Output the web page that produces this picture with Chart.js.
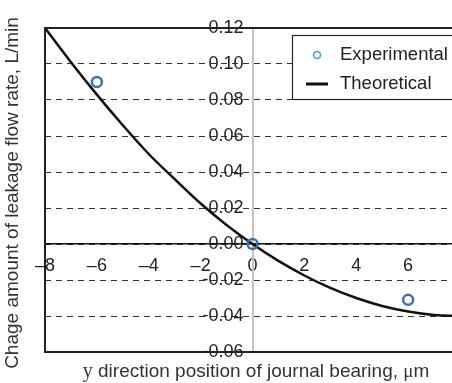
<!DOCTYPE html>
<html>
<head>
<meta charset="utf-8">
<script src="https://cdn.jsdelivr.net/npm/chart.js@4.4.1/dist/chart.umd.min.js"></script>
<style>
  html, body { margin: 0; padding: 0; background: #fff; overflow: hidden; }
  #wrap { width: 470px; height: 383px; }
</style>
</head>
<body>
<div id="wrap"><canvas id="flow-chart" width="470" height="383"></canvas></div>
<script>
// -------- DATA -------- //
const xTicks = [-8, -6, -4, -2, 0, 2, 4, 6];
const yTicks = [-0.06, -0.04, -0.02, 0, 0.02, 0.04, 0.06, 0.08, 0.10, 0.12];

const expX = [-6, 0, 6];
const expY = [0.090, 0.000, -0.031];

const theoryX = [-8, -7, -6, -5, -4, -3, -2, -1, 0, 1, 2, 3, 4, 5, 6, 7, 8];
const theoryY = [0.120, 0.101, 0.083, 0.066, 0.050, 0.036, 0.0225, 0.0106, 0.000,
  -0.0094, -0.0175, -0.0244, -0.030, -0.0344, -0.0375, -0.0394, -0.040];

const seriesNames = ['Experimental', 'Theoretical'];
const xTitle = 'y direction position of journal bearing, \u03bcm';
const yTitle = 'Chage amount of leakage flow rate, L/min';

const toPoints = (xs, ys) => xs.map((x, i) => ({ x: x, y: ys[i] }));

Chart.defaults.font.family = "'Liberation Sans', Arial, sans-serif";
Chart.defaults.color = '#222';

// -------- FRAME, TITLES, LEGEND -------- //
const decorations = {
  id: 'decorations',
  afterDraw(chart) {
    const ctx = chart.ctx;
    const a = chart.chartArea;
    ctx.save();

    // frame (left, top, bottom)
    ctx.strokeStyle = '#222';
    ctx.lineWidth = 2;
    ctx.beginPath();
    ctx.moveTo(a.right, a.top);
    ctx.lineTo(a.left, a.top);
    ctx.lineTo(a.left, a.bottom);
    ctx.lineTo(a.right, a.bottom);
    ctx.stroke();

    // y title
    ctx.fillStyle = '#333';
    ctx.font = "19px 'Liberation Sans'";
    ctx.textAlign = 'center';
    ctx.textBaseline = 'middle';
    ctx.save();
    ctx.translate(13, 193);
    ctx.rotate(-Math.PI / 2);
    ctx.fillText(yTitle, 0, 0);
    ctx.restore();

    // x title, 'y' and 'μ' in a serif face
    const parts = [
      ['y', "20px 'Liberation Serif'"],
      [xTitle.slice(1, -2), "19px 'Liberation Sans'"],
      ['\u03bc', "19px 'Liberation Serif'"],
      ['m', "19px 'Liberation Sans'"]
    ];
    let total = 0;
    parts.forEach(p => { ctx.font = p[1]; total += ctx.measureText(p[0]).width; });
    let x = 256 - total / 2;
    ctx.textAlign = 'left';
    parts.forEach(p => {
      ctx.font = p[1];
      ctx.fillText(p[0], x, 372);
      x += ctx.measureText(p[0]).width;
    });

    // legend
    ctx.fillStyle = '#fff';
    ctx.fillRect(292, 35, 200, 64);
    ctx.strokeStyle = '#222';
    ctx.lineWidth = 1.2;
    ctx.strokeRect(292.5, 35.5, 200, 64);

    ctx.strokeStyle = '#4a9ad8';
    ctx.lineWidth = 1.5;
    ctx.beginPath();
    ctx.arc(317, 55, 3.5, 0, Math.PI * 2);
    ctx.stroke();

    ctx.strokeStyle = '#111';
    ctx.lineWidth = 3;
    ctx.beginPath();
    ctx.moveTo(306, 84);
    ctx.lineTo(328, 84);
    ctx.stroke();

    ctx.fillStyle = '#222';
    ctx.font = "18.5px 'Liberation Sans'";
    ctx.textBaseline = 'middle';
    ctx.fillText(seriesNames[0], 340, 55);
    ctx.fillText(seriesNames[1], 340, 84);

    ctx.restore();
  }
};

// -------- CHART -------- //
const flowCtx = document.getElementById('flow-chart');

const flowChart = new Chart(flowCtx, {
  type: 'scatter',
  data: {
    datasets: [
      {
        label: seriesNames[0],
        data: toPoints(expX, expY),
        pointStyle: 'circle',
        pointRadius: 5,
        pointBorderWidth: 2.5,
        pointBorderColor: '#3f72ad',
        pointBackgroundColor: 'rgba(255,255,255,0)',
        showLine: false
      },
      {
        label: seriesNames[1],
        data: toPoints(theoryX, theoryY),
        showLine: true,
        borderColor: '#111',
        borderWidth: 2.5,
        pointRadius: 0,
        tension: 0.4,
        fill: false
      }
    ]
  },
  plugins: [decorations],
  options: {
    responsive: false,
    animation: false,
    layout: {
      padding: { left: 45, right: 10, top: 28, bottom: 31 }
    },
    plugins: {
      legend: { display: false },
      tooltip: { enabled: false }
    },
    scales: {
      x: {
        type: 'linear',
        position: { y: 0 },
        min: -8,
        max: 8,
        afterBuildTicks: axis => { axis.ticks = xTicks.map(v => ({ value: v })); },
        ticks: {
          padding: 3,
          font: { size: 18 },
          color: '#222',
          callback: v => (v < 0 ? '\u2013' + Math.abs(v) : String(v))
        },
        grid: { display: false },
        border: { display: true, color: '#111', width: 1.5 }
      },
      y: {
        type: 'linear',
        position: { x: 0 },
        min: -0.06,
        max: 0.12,
        afterBuildTicks: axis => { axis.ticks = yTicks.map(v => ({ value: v })); },
        ticks: {
          font: { size: 18 },
          color: '#222',
          // positioned axes ignore padding, so a trailing en space keeps the label off the line
          callback: v => v.toFixed(2) + '\u2002'
        },
        grid: {
          color: '#333',
          lineWidth: 1,
          drawTicks: false
        },
        border: { display: true, color: '#cbc1ba', width: 2, dash: [6, 5] }
      }
    }
  }
});
</script>
</body>
</html>
